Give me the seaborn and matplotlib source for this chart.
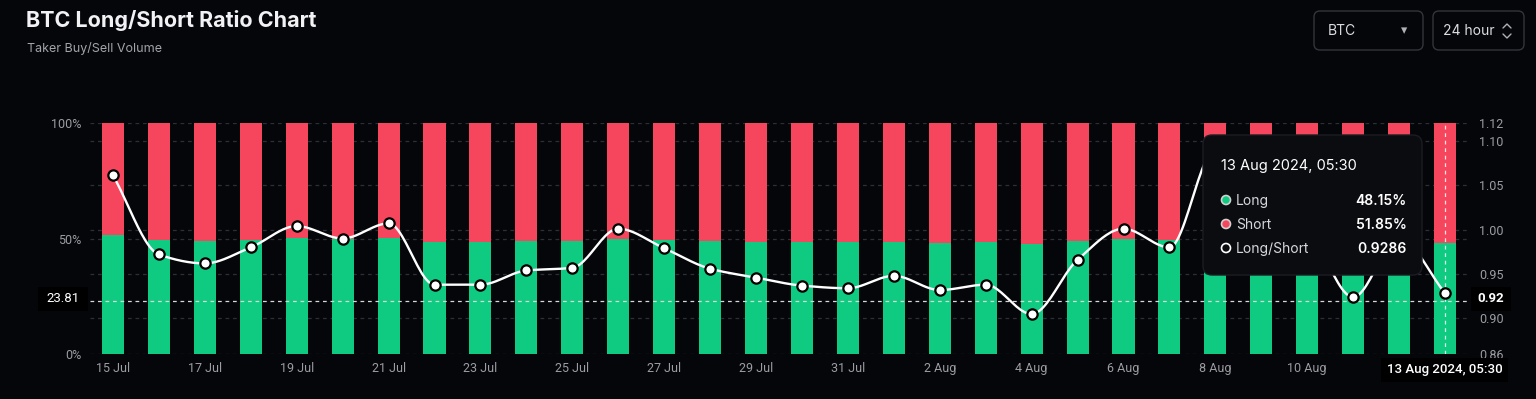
import numpy as np
import pandas as pd
import matplotlib
matplotlib.use("Agg")
import matplotlib.pyplot as plt
import seaborn as sns
from matplotlib.patches import FancyBboxPatch, Rectangle, Circle
from matplotlib.lines import Line2D
from matplotlib.transforms import IdentityTransform

# daily buckets, 15 Jul -> 13 Aug 2024
dates = pd.date_range("2024-07-15", periods=30, freq="D")
day_labels = [f"{d.day} {d:%b}" for d in dates]

# long share (%)
long_pct = [51.5, 49.3, 49.0, 49.5, 50.1, 49.7, 50.2, 48.4, 48.4, 48.8,
            48.9, 50.0, 49.5, 48.9, 48.6, 48.4, 48.3, 48.7, 48.2, 48.4,
            47.5, 49.1, 50.0, 49.5, 52.2, 50.7, 50.0, 48.0, 49.7, 48.15]
short_pct = [round(100 - v, 2) for v in long_pct]

# long/short ratio (right axis)
ratio = [1.061, 0.972, 0.962, 0.980, 1.004, 0.990, 1.007, 0.938, 0.938, 0.954,
         0.957, 1.001, 0.979, 0.956, 0.946, 0.937, 0.934, 0.948, 0.932, 0.938,
         0.905, 0.966, 1.001, 0.980, 1.090, 1.030, 1.000, 0.924, 0.990, 0.9286]

right_ticks = [0.86, 0.90, 0.95, 1.00, 1.05, 1.10, 1.12]

# hover state shown in the screenshot
cursor_idx = 29
cursor_ratio = 0.92
cursor_pct = "23.81"
cursor_date = "13 Aug 2024, 05:30"

BG = "#05060a"
RED = "#f6465d"
GREEN = "#0ecb81"
GRID = "#2d2f36"
TICK = "#9c9ca3"

W, H = 1536, 399


def monotone(xv, yv, n=24):
    # monotone cubic hermite, only for drawing the smooth line between points
    xv = np.asarray(xv, float)
    yv = np.asarray(yv, float)
    d = np.diff(yv) / np.diff(xv)
    m = np.zeros_like(yv)
    m[0], m[-1] = d[0], d[-1]
    for k in range(1, len(yv) - 1):
        if d[k - 1] * d[k] > 0:
            m[k] = 2 * d[k - 1] * d[k] / (d[k - 1] + d[k])
    xs, ys = [], []
    t = np.linspace(0, 1, n, endpoint=False)
    for k in range(len(yv) - 1):
        h = xv[k + 1] - xv[k]
        h00 = 2 * t**3 - 3 * t**2 + 1
        h10 = t**3 - 2 * t**2 + t
        h01 = -2 * t**3 + 3 * t**2
        h11 = t**3 - t**2
        ys.append(h00 * yv[k] + h10 * h * m[k] + h01 * yv[k + 1] + h11 * h * m[k + 1])
        xs.append(xv[k] + t * h)
    xs.append([xv[-1]])
    ys.append([yv[-1]])
    return np.concatenate(xs), np.concatenate(ys)


sns.set_theme(style="dark", rc={"axes.facecolor": BG, "figure.facecolor": BG})
plt.rcParams["font.family"] = ["Inter", "DejaVu Sans"]

fig = plt.figure(figsize=(W / 100, H / 100), dpi=100, facecolor=BG)
ax = fig.add_axes([90 / W, 45 / H, 1378 / W, 231 / H])
ax.set_facecolor(BG)

df = pd.DataFrame({"day": day_labels, "long": long_pct, "short": short_pct})
df["total"] = df["long"] + df["short"]

ax2 = ax.twinx()
ax2.set_ylim(0.86, 1.12)

# grid behind the bars
for r in right_ticks:
    ax.plot([-0.5, 29.5], [r, r], transform=ax2.transData, color=GRID,
            lw=0.9, dashes=(3, 3), zorder=0)
ax.axhline(50, color=GRID, lw=0.9, dashes=(3, 3), zorder=0)

sns.barplot(data=df, x="day", y="total", color=RED, width=0.48, saturation=1,
            linewidth=0, ax=ax, zorder=2)
sns.barplot(data=df, x="day", y="long", color=GREEN, width=0.48, saturation=1,
            linewidth=0, ax=ax, zorder=3)

ax.set_xlim(-0.5, 29.5)
ax.set_ylim(0, 100)
ax.set_yticks([0, 50, 100])
ax.set_yticklabels(["0%", "50%", "100%"])
# last tick (12 Aug) sits under the cursor date box, so it is left out
ax.set_xticks(range(0, 28, 2))
ax.set_xticklabels(day_labels[:28:2])
ax.set_xlabel("")
ax.set_ylabel("")

xs, ys = monotone(range(30), ratio)
sns.lineplot(x=xs, y=ys, ax=ax2, color="white", lw=1.7, sort=False,
             estimator=None, zorder=4)
sns.scatterplot(x=np.arange(30), y=ratio, ax=ax2, s=55, color="white",
                edgecolor="black", linewidth=1.6, zorder=6)

ax2.set_yticks(right_ticks)
ax2.set_yticklabels([f"{v:.2f}" for v in right_ticks])
ax2.set_ylabel("")

# crosshair
ax2.axvline(cursor_idx, color="white", lw=0.9, dashes=(3, 3), alpha=0.85, zorder=5)
ax2.axhline(cursor_ratio, color="#d8d8d8", lw=0.9, dashes=(3, 3), zorder=5)

for a in (ax, ax2):
    for s in a.spines.values():
        s.set_visible(False)
    a.grid(False)
ax.tick_params(axis="both", length=0, colors=TICK, labelsize=9)
ax.tick_params(axis="x", pad=6)
ax.tick_params(axis="y", pad=6)
ax2.tick_params(axis="y", length=0, colors=TICK, labelsize=9, pad=8)
for lab in ax.get_xticklabels() + ax.get_yticklabels() + ax2.get_yticklabels():
    lab.set_family(["Roboto", "DejaVu Sans"])

PX = IdentityTransform()


def ypx(y):
    return H - y


def ptext(x, y, s, **kw):
    fig.text(x, ypx(y), s, transform=PX, **kw)


# header
ptext(26, 27, "BTC Long/Short Ratio Chart", fontsize=15.5, fontweight="bold",
      color="#f2f2f4", va="baseline")
ptext(27, 52, "Taker Buy/Sell Volume", fontsize=9, color="#a3a3aa", va="baseline")

# selectors
for x0, x1 in [(1314, 1423), (1433, 1524)]:
    fig.add_artist(FancyBboxPatch((x0, ypx(50)), x1 - x0, 39, transform=PX,
                                  boxstyle="round,pad=0,rounding_size=6",
                                  facecolor=BG, edgecolor="#33353c", lw=1))
ptext(1328, 31, "BTC", fontsize=10, color="#dcdce0", va="center")
ptext(1404, 31, "\u25BE", fontsize=9, color="#b0b0b6", va="center", ha="center",
      family="DejaVu Sans")
ptext(1443, 31, "24 hour", fontsize=10, color="#dcdce0", va="center")
fig.add_artist(Line2D([1503, 1507, 1511], [ypx(28), ypx(24), ypx(28)],
                      transform=PX, color="#b0b0b6", lw=1))
fig.add_artist(Line2D([1503, 1507, 1511], [ypx(34), ypx(38), ypx(34)],
                      transform=PX, color="#b0b0b6", lw=1))

# axis cursor labels
fig.add_artist(Rectangle((38, ypx(311)), 50, 24, transform=PX,
                         facecolor="black", edgecolor="none"))
ptext(63, 299, cursor_pct, fontsize=9.5, color="white", ha="center", va="center",
      family=["Roboto", "DejaVu Sans"])
fig.add_artist(Rectangle((1471, ypx(311)), 40, 24, transform=PX,
                         facecolor="black", edgecolor="none"))
ptext(1491, 299, f"{cursor_ratio:.2f}", fontsize=9.5, color="white", ha="center",
      va="center", fontweight="bold", family=["Roboto", "DejaVu Sans"])
fig.add_artist(Rectangle((1381, ypx(382)), 127, 24, transform=PX,
                         facecolor="black", edgecolor="none"))
ptext(1445, 370, cursor_date, fontsize=9.5, color="white", ha="center",
      va="center", fontweight="medium", family=["Roboto", "DejaVu Sans"])

# tooltip
fig.add_artist(FancyBboxPatch((1203, ypx(275)), 219, 140, transform=PX,
                              boxstyle="round,pad=0,rounding_size=9",
                              facecolor="#0b0c10", edgecolor="#1c1d22", lw=1))
ptext(1221, 170, cursor_date, fontsize=10.5, color="white", va="baseline")
rows = [("Long", f"{long_pct[cursor_idx]:.2f}%", GREEN, "#d0d0d0"),
        ("Short", f"{short_pct[cursor_idx]:.2f}%", RED, "#d0d0d0"),
        ("Long/Short", f"{ratio[cursor_idx]:.4f}", "#0b0c10", "white")]
for i, (name, val, fc, ec) in enumerate(rows):
    yb = 205 + i * 24
    fig.add_artist(Circle((1226, ypx(yb - 5)), 4.5, transform=PX,
                          facecolor=fc, edgecolor=ec, lw=1.2))
    ptext(1236, yb, name, fontsize=10, color="#d6d6dc", va="baseline")
    ptext(1407, yb, val, fontsize=10, color="white", va="baseline", ha="right",
          fontweight="semibold")

fig.savefig("out.png", dpi=100, facecolor=BG)
